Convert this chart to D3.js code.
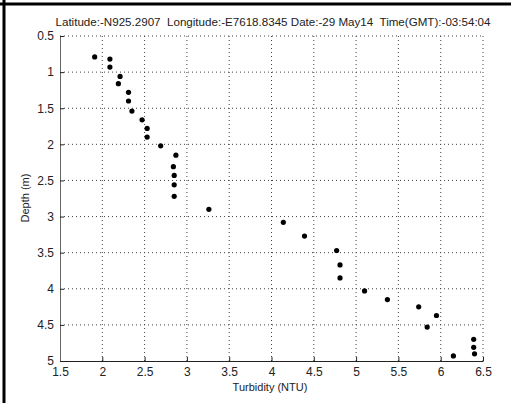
<!DOCTYPE html>
<html><head><meta charset="utf-8">
<script src="https://cdn.jsdelivr.net/npm/d3@7"></script>
<style>body{margin:0;background:#fff}svg{display:block}text{font-family:"Liberation Sans",Arial,sans-serif;fill:#222}</style>
</head><body><svg id="c" width="511" height="403"></svg>
<script>
const turbidity = [1.91,2.09,2.09,2.21,2.19,2.31,2.31,2.35,2.47,2.53,2.53,2.69,2.87,2.84,2.85,2.85,2.85,3.26,4.14,4.39,4.77,4.81,4.81,5.10,5.37,5.74,5.95,5.84,6.39,6.39,6.40,6.15];
const depth = [0.79,0.82,0.93,1.06,1.16,1.28,1.40,1.54,1.66,1.78,1.90,2.02,2.15,2.31,2.43,2.56,2.72,2.90,3.08,3.27,3.47,3.67,3.85,4.03,4.15,4.25,4.37,4.53,4.70,4.81,4.90,4.93];
const xTicks = [1.5,2,2.5,3,3.5,4,4.5,5,5.5,6,6.5];
const yTicks = [0.5,1,1.5,2,2.5,3,3.5,4,4.5,5];
const title = "Latitude:-N925.2907  Longitude:-E7618.8345 Date:-29 May14  Time(GMT):-03:54:04";

const svg = d3.select("#c");
const L=60,R=483,T=36,B=361;
const x = d3.scaleLinear().domain([1.5,6.5]).range([L,R]);
const y = d3.scaleLinear().domain([0.5,5]).range([T,B]);

// frame
svg.append("line").attr("x1",0).attr("x2",511).attr("y1",4).attr("y2",4).attr("stroke","#000").attr("stroke-width",3);
svg.append("line").attr("x1",4).attr("x2",4).attr("y1",0).attr("y2",403).attr("stroke","#000").attr("stroke-width",3);

// grid
const g = svg.append("g");
g.selectAll(".vg").data(xTicks.slice(1)).join("line")
 .attr("x1",d=>x(d)).attr("x2",d=>x(d)).attr("y1",T).attr("y2",B)
 .attr("stroke","#444").attr("stroke-width",1).attr("stroke-dasharray","1,3");
g.selectAll(".hg").data(yTicks.slice(0,-1)).join("line")
 .attr("x1",L).attr("x2",R).attr("y1",d=>y(d)).attr("y2",d=>y(d))
 .attr("stroke","#444").attr("stroke-width",1).attr("stroke-dasharray","1,3");

// axes
const xa = svg.append("g").attr("transform",`translate(0,${B})`)
 .call(d3.axisBottom(x).tickValues(xTicks).tickSizeInner(-4).tickSizeOuter(0).tickPadding(8).tickFormat(d3.format("")));
const ya = svg.append("g").attr("transform",`translate(${L},0)`)
 .call(d3.axisLeft(y).tickValues(yTicks).tickSizeInner(-4).tickSizeOuter(0).tickPadding(6).tickFormat(d3.format("")));
[xa,ya].forEach(a=>{a.selectAll("text").attr("font-size",12).attr("font-family","Liberation Sans, Arial, sans-serif").attr("fill","#222");
 a.select(".domain").attr("stroke","#222");a.selectAll(".tick line").attr("stroke","#222");});
ya.select(".domain").attr("stroke","#666");
ya.selectAll(".tick text").attr("dy","0.32em");
xa.selectAll(".tick text").attr("dy","0.55em");

// points
svg.append("g").selectAll("circle").data(turbidity).join("circle")
 .attr("cx",d=>x(d)).attr("cy",(d,i)=>y(depth[i])).attr("r",2.6).attr("fill","#000");

// labels
svg.append("text").attr("x",273).attr("y",26).attr("text-anchor","middle").attr("font-size",11.6).attr("xml:space","preserve").text(title);
svg.append("text").attr("x",270).attr("y",391).attr("text-anchor","middle").attr("font-size",11).text("Turbidity (NTU)");
svg.append("text").attr("transform","translate(29,198) rotate(-90)").attr("text-anchor","middle").attr("font-size",11).text("Depth (m)");
</script></body></html>
